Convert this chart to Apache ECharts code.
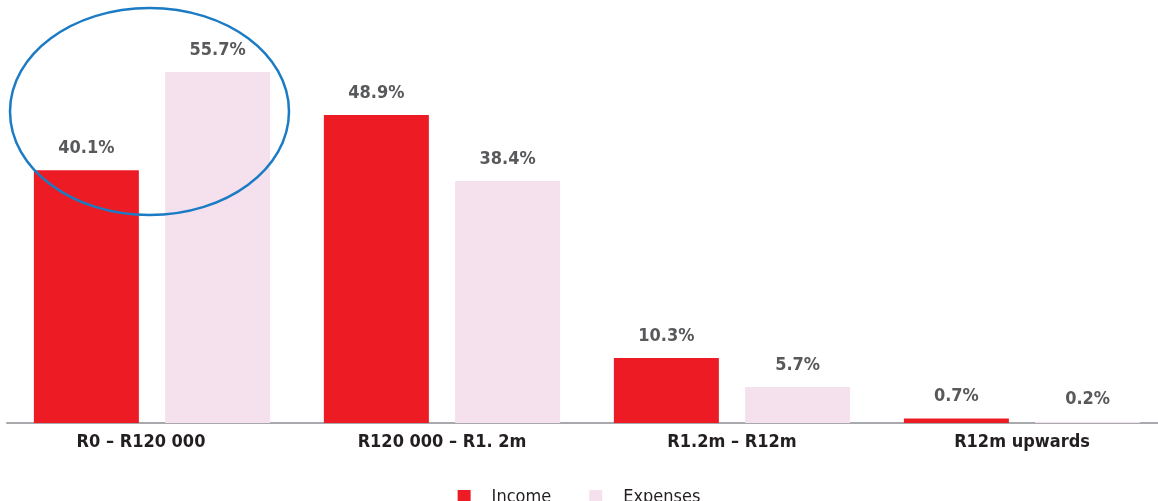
<!DOCTYPE html>
<html>
<head>
<meta charset="utf-8">
<script src="https://cdn.jsdelivr.net/npm/echarts@6/dist/echarts.min.js"></script>
<style>
  html, body { margin: 0; padding: 0; background: #fff; }
  #chart { width: 1158px; height: 501px; }
</style>
</head>
<body>
<div id="chart"></div>
<script>
// 数据
var categories = ['R0 – R120 000', 'R120 000 – R1. 2m', 'R1.2m – R12m', 'R12m upwards'];
var incomeData = [40.1, 48.9, 10.3, 0.7];
var expensesData = [55.7, 38.4, 5.7, 0.2];

var FONT = '"DejaVu Sans Condensed", "Liberation Sans", sans-serif';

var myChart = echarts.init(document.getElementById('chart'));

var labelStyle = {
    show: true,
    position: 'top',
    distance: 13,
    color: '#58595b',
    fontFamily: FONT,
    fontWeight: 'bold',
    fontSize: 18,
    formatter: function (p) { return p.value.toFixed(1) + '%'; }
};

var option = {
    animation: false,
    grid: { left: 7, width: 1160, top: 45, bottom: 78, containLabel: false, outerBoundsMode: 'none' },
    legend: {
        data: ['Income', 'Expenses'],
        top: 483,
        left: 'center',
        icon: 'rect',
        itemWidth: 13,
        itemHeight: 14,
        itemGap: 38,
        textStyle: { color: '#231f20', fontFamily: FONT, fontSize: 18, padding: [0, 0, 0, 16] }
    },
    xAxis: {
        type: 'category',
        data: categories,
        axisLine: { lineStyle: { color: '#a7a9ac', width: 2 } },
        axisTick: { show: false },
        axisLabel: {
            color: '#231f20',
            fontFamily: FONT,
            fontWeight: 'bold',
            fontSize: 18,
            margin: 10,
            interval: 0,
            formatter: function (v, i) { return i === 0 ? '{a|' + v + '}' : v; },
            rich: { a: { color: '#231f20', fontFamily: FONT, fontWeight: 'bold', fontSize: 18, padding: [0, 22, 0, 0] } }
        }
    },
    yAxis: { type: 'value', min: 0, max: 60, show: false, splitLine: { show: false } },
    series: [
        {
            name: 'Income',
            type: 'bar',
            data: incomeData,
            barWidth: 105,
            barGap: '25%',
            itemStyle: { color: '#ed1c24' },
            label: labelStyle
        },
        {
            name: 'Expenses',
            type: 'bar',
            data: expensesData,
            barWidth: 105,
            itemStyle: { color: '#f4e1ed' },
            label: labelStyle
        }
    ],
    // 标注椭圆
    graphic: [{
        type: 'ellipse',
        shape: { cx: 149.5, cy: 111.5, rx: 139.5, ry: 103.5 },
        style: { fill: 'none', stroke: '#1b7bc4', lineWidth: 2.5 },
        z: 100
    }]
};

myChart.setOption(option);
</script>
</body>
</html>
